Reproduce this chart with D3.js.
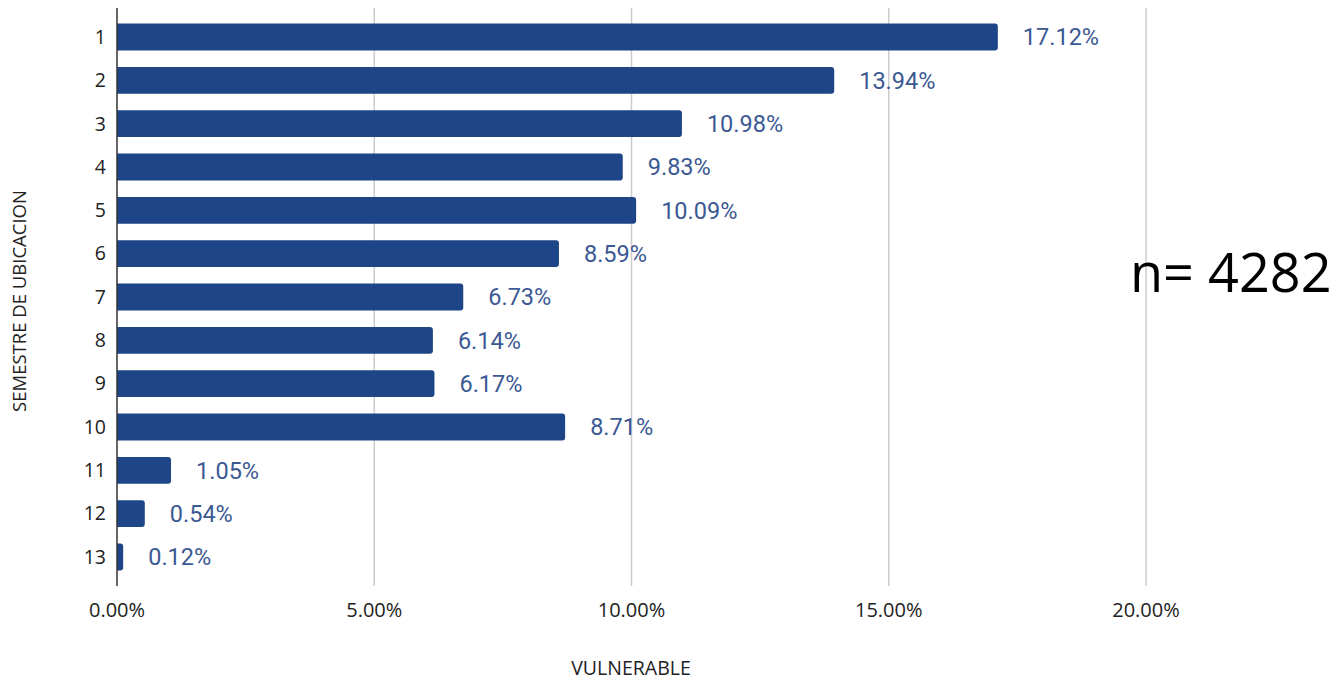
<!DOCTYPE html>
<html>
<head>
<meta charset="utf-8">
<script src="https://cdn.jsdelivr.net/npm/d3@7"></script>
<style>
  body { margin: 0; background: #fff; }
  svg { display: block; }
</style>
</head>
<body>
<script>
var width = 1339,
    height = 681;

// data
var semesters = ["1","2","3","4","5","6","7","8","9","10","11","12","13"];
var values = [17.12, 13.94, 10.98, 9.83, 10.09, 8.59, 6.73, 6.14, 6.17, 8.71, 1.05, 0.54, 0.12];
var ticks = [0, 5, 10, 15, 20];
var xTitle = "VULNERABLE",
    yTitle = "SEMESTRE DE UBICACION",
    nLabel = "n= 4282";

var m = {left: 117, top: 8, bottom: 586};

var x = d3.scaleLinear()
    .domain([0, 20])
    .range([m.left, 1146]);

var y = d3.scaleBand()
    .domain(semesters)
    .range([m.top, m.bottom])
    .paddingInner(0.38)
    .paddingOuter(0.36);

var svg = d3.select("body").append("svg")
    .attr("width", width)
    .attr("height", height);

// gridlines
svg.append("g").selectAll("line")
    .data(ticks.slice(1))
  .enter().append("line")
    .attr("x1", function(d) { return x(d); })
    .attr("x2", function(d) { return x(d); })
    .attr("y1", m.top)
    .attr("y2", m.bottom)
    .attr("stroke", "#cccccc")
    .attr("stroke-width", 1.5);

// bars, rounded on the right end only
function barPath(d, i) {
  var x0 = x(0), x1 = x(d), y0 = y(semesters[i]), h = y.bandwidth();
  var r = Math.min(3, (x1 - x0) / 2);
  return "M" + x0 + "," + y0 +
    "H" + (x1 - r) +
    "Q" + x1 + "," + y0 + " " + x1 + "," + (y0 + r) +
    "V" + (y0 + h - r) +
    "Q" + x1 + "," + (y0 + h) + " " + (x1 - r) + "," + (y0 + h) +
    "H" + x0 + "Z";
}

svg.append("g").selectAll("path")
    .data(values)
  .enter().append("path")
    .attr("d", barPath)
    .attr("fill", "#1d4587");

// value labels
svg.append("g").selectAll("text")
    .data(values)
  .enter().append("text")
    .attr("x", function(d) { return x(d) + 25; })
    .attr("y", function(d, i) { return y(semesters[i]) + y.bandwidth() / 2; })
    .attr("dy", "0.35em")
    .style("font-family", "Roboto, sans-serif")
    .style("font-size", "23.5px")
    .style("fill", "#3b5993")
    .text(function(d) { return d.toFixed(2) + "%"; });

// y axis line
svg.append("line")
    .attr("x1", m.left).attr("x2", m.left)
    .attr("y1", m.top).attr("y2", m.bottom)
    .attr("stroke", "#333")
    .attr("stroke-width", 1.5);

// y tick labels
svg.append("g").selectAll("text")
    .data(semesters)
  .enter().append("text")
    .attr("x", 106)
    .attr("y", function(d) { return y(d) + y.bandwidth() / 2; })
    .attr("dy", "0.35em")
    .attr("text-anchor", "end")
    .style("font-family", "'Open Sans', sans-serif")
    .style("font-size", "19.5px")
    .style("fill", "#222")
    .text(function(d) { return d; });

// x tick labels
svg.append("g").selectAll("text")
    .data(ticks)
  .enter().append("text")
    .attr("x", function(d) { return x(d); })
    .attr("y", 610)
    .attr("dy", "0.35em")
    .attr("text-anchor", "middle")
    .style("font-family", "'Open Sans', sans-serif")
    .style("font-size", "20px")
    .style("fill", "#222")
    .text(function(d) { return d.toFixed(2) + "%"; });

// axis titles
svg.append("text")
    .attr("x", 631)
    .attr("y", 668)
    .attr("dy", "0.35em")
    .attr("text-anchor", "middle")
    .style("font-family", "'Open Sans', sans-serif")
    .style("font-size", "19.5px")
    .style("fill", "#222")
    .text(xTitle);

svg.append("text")
    .attr("transform", "translate(20,301) rotate(-90)")
    .attr("dy", "0.35em")
    .attr("text-anchor", "middle")
    .style("font-family", "'Open Sans', sans-serif")
    .style("font-size", "18.5px")
    .style("fill", "#222")
    .text(yTitle);

// sample size note
svg.append("text")
    .attr("x", 1130)
    .attr("y", 273)
    .attr("dy", "0.35em")
    .style("font-family", "'Open Sans', sans-serif")
    .style("font-size", "54px")
    .style("fill", "#000")
    .text(nLabel);
</script>
</body>
</html>
